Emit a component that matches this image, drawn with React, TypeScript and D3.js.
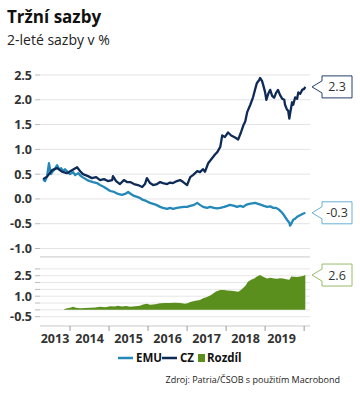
import React from "react";
import * as d3 from "d3";

const czDates = [2013.31,2013.41,2013.54,2013.67,2013.79,2013.92,2014.05,2014.18,2014.26,2014.33,2014.46,2014.56,2014.67,2014.77,2014.87,2014.97,2015.08,2015.10,2015.18,2015.28,2015.38,2015.46,2015.54,2015.64,2015.74,2015.85,2015.92,2015.97,2016.05,2016.13,2016.23,2016.31,2016.38,2016.49,2016.56,2016.64,2016.74,2016.82,2016.90,2017.00,2017.08,2017.15,2017.26,2017.33,2017.41,2017.46,2017.54,2017.64,2017.72,2017.77,2017.85,2017.90,2017.97,2018.05,2018.13,2018.23,2018.31,2018.38,2018.44,2018.49,2018.54,2018.62,2018.69,2018.74,2018.79,2018.85,2018.87,2018.92,2018.95,2019.00,2019.03,2019.08,2019.13,2019.18,2019.23,2019.28,2019.33,2019.38,2019.44,2019.49,2019.51,2019.56,2019.59,2019.62,2019.64,2019.69,2019.72,2019.77,2019.82,2019.85,2019.90,2019.95,2020.00,2020.03];
const czValues = [0.40,0.45,0.58,0.62,0.55,0.52,0.58,0.64,0.56,0.50,0.46,0.42,0.44,0.38,0.40,0.36,0.38,0.46,0.36,0.30,0.38,0.34,0.34,0.30,0.28,0.24,0.30,0.42,0.32,0.28,0.30,0.34,0.32,0.30,0.33,0.32,0.36,0.38,0.34,0.28,0.44,0.48,0.56,0.54,0.60,0.55,0.72,0.82,0.90,0.94,1.05,1.28,1.25,1.34,1.28,1.24,1.20,1.34,1.48,1.56,1.75,1.90,2.05,2.20,2.34,2.40,2.44,2.38,2.30,2.15,2.00,2.12,2.20,2.08,2.04,2.14,2.20,2.10,2.02,2.00,1.90,1.80,1.78,1.62,1.72,1.95,1.90,2.05,2.02,2.15,2.12,2.20,2.22,2.26];

const emuDates = [2013.31,2013.36,2013.41,2013.46,2013.51,2013.56,2013.62,2013.67,2013.72,2013.77,2013.82,2013.87,2013.92,2014.00,2014.08,2014.13,2014.21,2014.28,2014.36,2014.44,2014.51,2014.59,2014.69,2014.77,2014.87,2014.95,2015.03,2015.13,2015.23,2015.33,2015.41,2015.49,2015.56,2015.64,2015.72,2015.79,2015.87,2015.95,2016.05,2016.13,2016.21,2016.31,2016.38,2016.49,2016.56,2016.64,2016.74,2016.82,2016.92,2017.00,2017.08,2017.18,2017.26,2017.33,2017.41,2017.51,2017.59,2017.69,2017.77,2017.85,2017.95,2018.03,2018.10,2018.21,2018.28,2018.36,2018.44,2018.51,2018.59,2018.67,2018.74,2018.82,2018.90,2018.97,2019.05,2019.13,2019.21,2019.28,2019.36,2019.44,2019.51,2019.56,2019.62,2019.64,2019.67,2019.72,2019.77,2019.82,2019.87,2019.92,2019.97,2020.03];
const emuValues = [0.40,0.36,0.45,0.72,0.50,0.56,0.62,0.68,0.60,0.62,0.56,0.60,0.56,0.50,0.54,0.48,0.52,0.46,0.42,0.38,0.36,0.34,0.32,0.28,0.24,0.20,0.16,0.14,0.10,0.08,0.10,0.14,0.10,0.06,0.04,0.02,-0.02,-0.04,-0.08,-0.10,-0.12,-0.16,-0.18,-0.20,-0.18,-0.20,-0.18,-0.17,-0.16,-0.16,-0.14,-0.12,-0.08,-0.12,-0.16,-0.18,-0.16,-0.18,-0.19,-0.18,-0.16,-0.14,-0.12,-0.14,-0.16,-0.14,-0.16,-0.12,-0.10,-0.09,-0.08,-0.10,-0.12,-0.14,-0.16,-0.15,-0.18,-0.18,-0.22,-0.28,-0.36,-0.42,-0.48,-0.54,-0.50,-0.42,-0.40,-0.36,-0.34,-0.32,-0.30,-0.28];

const diffDates = [2013.85,2013.90,2014.00,2014.08,2014.15,2014.26,2014.38,2014.51,2014.64,2014.77,2014.90,2015.03,2015.15,2015.23,2015.33,2015.44,2015.54,2015.67,2015.79,2015.87,2015.97,2016.05,2016.18,2016.31,2016.44,2016.56,2016.69,2016.82,2016.95,2017.03,2017.08,2017.21,2017.33,2017.41,2017.51,2017.59,2017.67,2017.74,2017.85,2017.95,2018.03,2018.13,2018.23,2018.31,2018.38,2018.44,2018.49,2018.56,2018.64,2018.72,2018.79,2018.87,2018.95,2019.05,2019.13,2019.23,2019.31,2019.38,2019.46,2019.54,2019.62,2019.67,2019.74,2019.82,2019.90,2019.97,2020.03];
const diffValues = [0.05,0.10,0.16,0.22,0.16,0.12,0.14,0.16,0.18,0.22,0.20,0.26,0.24,0.30,0.24,0.28,0.22,0.26,0.30,0.40,0.44,0.38,0.42,0.48,0.50,0.50,0.52,0.50,0.45,0.50,0.58,0.66,0.72,0.85,0.95,1.05,1.20,1.35,1.46,1.45,1.42,1.40,1.36,1.32,1.45,1.62,1.75,2.05,2.20,2.30,2.45,2.55,2.42,2.30,2.35,2.30,2.28,2.32,2.30,2.25,2.20,2.45,2.42,2.40,2.44,2.48,2.55];

const topTicks = [2.5, 2.0, 1.5, 1.0, 0.5, 0.0, -0.5, -1.0];
const bottomGrid = [3.0, 2.5, 2.0, 1.5, 1.0, 0.5, 0.0, -0.5];
const bottomLabels = [2.5, 1.0, -0.5];
const yearTicks = [2014, 2015, 2016, 2017, 2018, 2019, 2020];
const yearLabels = ["2013", "2014", "2015", "2016", "2017", "2018", "2019"];
const lastValues = { cz: "2.3", emu: "-0.3", diff: "2.6" };

const C_CZ = "#0e2b58";
const C_EMU = "#2488b8";
const C_DIFF = "#5b8f1d";
const FONT = "'Open Sans', 'Noto Sans', sans-serif";

export default function App() {
  const x = d3.scaleLinear().domain([2013.23, 2020.15]).range([40, 310]);
  const yT = d3.scaleLinear().domain([-1, 2.5]).range([248.5, 75]);
  const yB = d3.scaleLinear().domain([-0.5, 3]).range([316.7, 268.9]);

  const cz = czDates.map((d, i) => [d, czValues[i]] as [number, number]);
  const emu = emuDates.map((d, i) => [d, emuValues[i]] as [number, number]);
  const diff = diffDates.map((d, i) => [d, diffValues[i]] as [number, number]);

  const lineT = d3.line<[number, number]>().x(d => x(d[0])).y(d => yT(d[1]));
  const areaB = d3.area<[number, number]>().x(d => x(d[0])).y0(yB(0)).y1(d => yB(d[1]));

  const topAxisY = yT(-1.17);
  const botAxisY = yB(-1.18);
  const [x0, x1] = x.range();

  const callout = (cy: number, text: string, color: string) => {
    const tip = 312, bx = 322, bw = 30, bh = 22;
    const path = `M${tip},${cy} L${bx},${cy - 6} L${bx},${cy - bh / 2} L${bx + bw},${cy - bh / 2} L${bx + bw},${cy + bh / 2} L${bx},${cy + bh / 2} L${bx},${cy + 6} Z`;
    return (
      <g>
        <path d={path} fill="#fff" stroke={color} strokeWidth={1} opacity={0.9} />
        <text x={bx + bw / 2} y={cy + 4.5} textAnchor="middle" fontSize={12.5} fill="#333" fontFamily={FONT}>{text}</text>
      </g>
    );
  };

  const lastCz = cz[cz.length - 1][1];
  const lastEmu = emu[emu.length - 1][1];
  const lastDiff = diff[diff.length - 1][1];

  return (
    <svg width={360} height={397} style={{ position: "absolute", left: 0, top: 0, background: "#fff" }} fontFamily={FONT}>
      <text x={7} y={23} fontSize={17} fontWeight={700} fill="#111">Tržní sazby</text>
      <text x={7} y={45} fontSize={14} fill="#222">2-leté sazby v %</text>

      {topTicks.map(t => (
        <g key={"t" + t}>
          <line x1={x0} x2={x1} y1={yT(t)} y2={yT(t)} stroke="#e3e3e3" strokeWidth={1} />
          <line x1={35} x2={40} y1={yT(t)} y2={yT(t)} stroke="#bbb" />
          <text x={32} y={yT(t) + 4.5} textAnchor="end" fontSize={12.5} fontWeight={700} fill="#333">{t.toFixed(1)}</text>
        </g>
      ))}
      <line x1={x0} x2={x1} y1={topAxisY} y2={topAxisY} stroke="#c8c8c8" />

      {bottomGrid.map(t => (
        <g key={"b" + t}>
          <line x1={x0} x2={x1} y1={yB(t)} y2={yB(t)} stroke="#e6e6e6" />
          <line x1={35} x2={40} y1={yB(t)} y2={yB(t)} stroke="#bbb" />
        </g>
      ))}
      {bottomLabels.map(t => (
        <text key={"bl" + t} x={32} y={yB(t) + 4.5} textAnchor="end" fontSize={12.5} fontWeight={700} fill="#333">{t.toFixed(1)}</text>
      ))}

      <path d={areaB(diff) || ""} fill={C_DIFF} stroke="none" />
      <line x1={x0} x2={x1} y1={botAxisY} y2={botAxisY} stroke="#c8c8c8" />
      {yearTicks.map(t => (
        <line key={"yt" + t} x1={x(t)} x2={x(t)} y1={botAxisY} y2={botAxisY + 5} stroke="#999" />
      ))}
      {yearLabels.map((l, i) => {
        const yr = +l;
        const a = Math.max(x(yr), x0);
        const b = Math.min(x(yr + 1), x1);
        return (
          <text key={"yl" + l} x={(a + b) / 2 - (i === 6 ? 3 : 0)} y={343} textAnchor="middle" fontSize={12.5} fontWeight={700} fill="#333">{l}</text>
        );
      })}

      <path d={lineT(emu) || ""} fill="none" stroke={C_EMU} strokeWidth={2.3} strokeLinejoin="round" />
      <path d={lineT(cz) || ""} fill="none" stroke={C_CZ} strokeWidth={2.3} strokeLinejoin="round" />

      {callout(yT(lastCz), lastValues.cz, C_CZ)}
      {callout(yT(lastEmu), lastValues.emu, "#5aa9cf")}
      {callout(yB(lastDiff), lastValues.diff, "#8fb55a")}

      <g>
        <line x1={118} x2={133} y1={358} y2={358} stroke={C_EMU} strokeWidth={2.5} />
        <text x={136} y={362} fontSize={11.5} fontWeight={700} fill="#111">EMU</text>
        <line x1={162} x2={177} y1={358} y2={358} stroke={C_CZ} strokeWidth={2.5} />
        <text x={180} y={362} fontSize={11.5} fontWeight={700} fill="#111">CZ</text>
        <rect x={198} y={354} width={7} height={8} fill={C_DIFF} />
        <text x={207} y={362} fontSize={11.5} fontWeight={700} fill="#111">Rozdíl</text>
      </g>
      <text x={340} y={383} textAnchor="end" fontSize={9} fill="#222">Zdroj: Patria/ČSOB s použitím Macrobond</text>
    </svg>
  );
}
